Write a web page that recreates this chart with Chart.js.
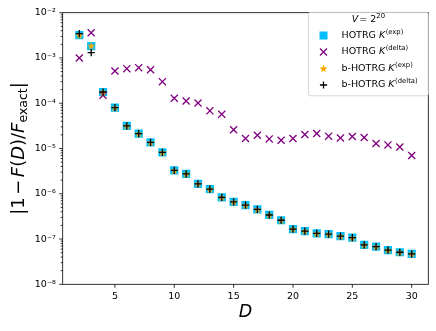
<!DOCTYPE html>
<html>
<head>
<meta charset="utf-8">
<script src="https://cdn.jsdelivr.net/npm/chart.js"></script>
<style>
  html, body { margin: 0; padding: 0; background: #fff; }
  #c { display: block; }
</style>
</head>
<body>
<canvas id="c" width="436" height="331"></canvas>
<script>
// bond dimension D
const dims = [2, 3, 4, 5, 6, 7, 8, 9, 10, 11, 12, 13, 14, 15, 16, 17, 18, 19, 20, 21, 22, 23, 24, 25, 26, 27, 28, 29, 30];
// |1 - F(D)/F_exact|
const hotrgExp = [3.21e-3, 1.83e-3, 1.77e-4, 8.0e-5, 3.15e-5, 2.14e-5, 1.36e-5, 8.2e-6, 3.27e-6, 2.75e-6,
                  1.66e-6, 1.26e-6, 8.3e-7, 6.6e-7, 5.6e-7, 4.5e-7, 3.4e-7, 2.6e-7, 1.66e-7, 1.50e-7,
                  1.33e-7, 1.29e-7, 1.16e-7, 1.07e-7, 7.4e-8, 6.8e-8, 5.7e-8, 5.1e-8, 4.7e-8];
const hotrgDelta = [1.0e-3, 3.6e-3, 1.5e-4, 5.15e-4, 5.8e-4, 6.1e-4, 5.5e-4, 3.0e-4, 1.29e-4, 1.12e-4,
                    1.01e-4, 6.8e-5, 5.7e-5, 2.6e-5, 1.66e-5, 1.96e-5, 1.63e-5, 1.52e-5, 1.66e-5, 2.04e-5,
                    2.14e-5, 1.87e-5, 1.71e-5, 1.84e-5, 1.75e-5, 1.29e-5, 1.20e-5, 1.08e-5, 7.0e-6];
const bhotrgExp = [3.18e-3, 1.85e-3, 1.77e-4, 8.0e-5, 3.15e-5, 2.14e-5, 1.36e-5, 8.2e-6, 3.27e-6, 2.75e-6,
                   1.66e-6, 1.26e-6, 8.3e-7, 6.6e-7, 5.6e-7, 4.5e-7, 3.4e-7, 2.6e-7, 1.66e-7, 1.50e-7,
                   1.33e-7, 1.29e-7, 1.16e-7, 1.07e-7, 7.4e-8, 6.8e-8, 5.7e-8, 5.1e-8, 4.7e-8];
const bhotrgDelta = [3.44e-3, 1.31e-3, 1.77e-4, 8.0e-5, 3.15e-5, 2.14e-5, 1.36e-5, 8.2e-6, 3.27e-6, 2.75e-6,
                     1.66e-6, 1.26e-6, 8.3e-7, 6.6e-7, 5.6e-7, 4.5e-7, 3.4e-7, 2.6e-7, 1.66e-7, 1.50e-7,
                     1.33e-7, 1.29e-7, 1.16e-7, 1.07e-7, 7.4e-8, 6.8e-8, 5.7e-8, 5.1e-8, 4.7e-8];

const xTicks = [5, 10, 15, 20, 25, 30];
const yMajor = [1e-8, 1e-7, 1e-6, 1e-5, 1e-4, 1e-3, 1e-2];
const yLabels = ['10⁻⁸', '10⁻⁷', '10⁻⁶', '10⁻⁵', '10⁻⁴', '10⁻³', '10⁻²'];

const FONT = "'DejaVu Sans', sans-serif";
Chart.defaults.font.family = FONT;
Chart.defaults.color = '#000';

const cSquare = '#00bfff';
const cCross = '#800080';
const cStar = '#ffa500';
const cPlus = '#000000';

function pts(vals) {
  return dims.map((d, i) => ({ x: d, y: vals[i] }));
}

function starImage(r, color) {
  const c = document.createElement('canvas');
  const s = 2 * Math.ceil(r) + 1;
  c.width = c.height = s;
  const g = c.getContext('2d');
  g.translate(s / 2, s / 2 + 0.4);
  g.beginPath();
  for (let i = 0; i < 10; i++) {
    const rad = i % 2 ? r * 0.4 : r;
    const ang = -Math.PI / 2 + i * Math.PI / 5;
    g.lineTo(rad * Math.cos(ang), rad * Math.sin(ang));
  }
  g.closePath();
  g.fillStyle = color;
  g.fill();
  return c;
}
const star = starImage(4.3, cStar);

// draw a row of text pieces with different fonts, starting at x
function drawParts(ctx, parts, x, y) {
  let cx = x;
  parts.forEach(p => {
    ctx.font = p.f;
    ctx.fillText(p.t, cx, y + (p.dy || 0));
    cx += ctx.measureText(p.t).width + (p.gap || 0);
  });
}
function partsWidth(ctx, parts) {
  let w = 0;
  parts.forEach(p => { ctx.font = p.f; w += ctx.measureText(p.t).width + (p.gap || 0); });
  return w;
}

function legendMarker(ctx, kind, x, y) {
  ctx.save();
  if (kind === 'square') {
    ctx.fillStyle = cSquare;
    ctx.fillRect(x - 4, y - 4, 8, 8);
  } else if (kind === 'cross') {
    ctx.strokeStyle = cCross; ctx.lineWidth = 1.3;
    ctx.beginPath();
    ctx.moveTo(x - 3.5, y - 3.5); ctx.lineTo(x + 3.5, y + 3.5);
    ctx.moveTo(x - 3.5, y + 3.5); ctx.lineTo(x + 3.5, y - 3.5);
    ctx.stroke();
  } else if (kind === 'star') {
    ctx.drawImage(star, x - star.width / 2, y - star.height / 2);
  } else {
    ctx.strokeStyle = cPlus; ctx.lineWidth = 1.3;
    ctx.beginPath();
    ctx.moveTo(x - 3.6, y); ctx.lineTo(x + 3.6, y);
    ctx.moveTo(x, y - 3.6); ctx.lineTo(x, y + 3.6);
    ctx.stroke();
  }
  ctx.restore();
}

const decor = {
  id: 'decor',
  afterDraw(chart) {
    const ctx = chart.ctx;
    const a = chart.chartArea;
    const xs = chart.scales.x, ys = chart.scales.y;
    ctx.save();

    // tick marks, outward
    ctx.strokeStyle = '#000';
    ctx.lineWidth = 0.8;
    ctx.beginPath();
    xs.ticks.forEach(t => {
      const px = xs.getPixelForValue(t.value);
      ctx.moveTo(px, a.bottom); ctx.lineTo(px, a.bottom + 3.5);
    });
    ys.ticks.forEach(t => {
      const py = ys.getPixelForValue(t.value);
      const len = yMajor.includes(t.value) ? 3.5 : 2;
      ctx.moveTo(a.left, py); ctx.lineTo(a.left - len, py);
    });
    ctx.stroke();
    ctx.strokeRect(a.left, a.top, a.right - a.left, a.bottom - a.top);

    // x title
    ctx.fillStyle = '#000';
    ctx.textBaseline = 'middle';
    ctx.textAlign = 'center';
    ctx.font = 'italic 17.5px ' + FONT;
    ctx.fillText('D', (a.left + a.right) / 2, 312);

    // y title, rotated
    ctx.textAlign = 'left';
    ctx.textBaseline = 'alphabetic';
    const big = '18px ' + FONT, bigI = 'italic 18px ' + FONT, sub = '12.5px ' + FONT;
    const yParts = [
      { t: '|1', f: big, gap: 2.5 }, { t: '−', f: big, gap: 2.5 },
      { t: 'F', f: bigI }, { t: '(', f: big }, { t: 'D', f: bigI }, { t: ')/', f: big },
      { t: 'F', f: bigI }, { t: 'exact', f: sub, dy: 3.8 }, { t: '|', f: big }
    ];
    ctx.save();
    ctx.translate(23.5, (a.top + a.bottom) / 2);
    ctx.rotate(-Math.PI / 2);
    const yw = partsWidth(ctx, yParts);
    drawParts(ctx, yParts, -yw / 2, 0);
    ctx.restore();

    // legend box
    const lx = 308.5, ly = 12.3, lw = a.right - lx, lh = 83.5;
    ctx.beginPath();
    ctx.roundRect(lx, ly, lw, lh, 2);
    ctx.fillStyle = 'rgba(255,255,255,0.8)';
    ctx.fill();
    ctx.strokeStyle = '#cccccc';
    ctx.lineWidth = 0.8;
    ctx.stroke();

    ctx.fillStyle = '#000';
    ctx.textBaseline = 'middle';
    const f = '9.5px ' + FONT, fi = 'italic 9.5px ' + FONT, fs = '6.8px ' + FONT;
    const title = [{ t: 'V', f: fi, gap: 1 }, { t: '= 2', f: f }, { t: '20', f: fs, dy: -3.5 }];
    const tw = partsWidth(ctx, title);
    drawParts(ctx, title, lx + lw / 2 - tw / 2, 19.5);

    const rows = [
      { m: 'square', n: 'HOTRG ', s: '(exp)' },
      { m: 'cross', n: 'HOTRG ', s: '(delta)' },
      { m: 'star', n: 'b-HOTRG ', s: '(exp)' },
      { m: 'plus', n: 'b-HOTRG ', s: '(delta)' }
    ];
    rows.forEach((r, i) => {
      const ry = 35.5 + i * 16.5;
      legendMarker(ctx, r.m, 323.5, ry);
      ctx.fillStyle = '#000';
      drawParts(ctx, [{ t: r.n, f: f }, { t: 'K', f: fi, gap: 0.5 }, { t: r.s, f: fs, dy: -3.5 }], 341.5, ry);
    });
    ctx.restore();
  }
};

new Chart(document.getElementById('c'), {
  type: 'scatter',
  data: {
    datasets: [
      { label: 'HOTRG K(exp)', data: pts(hotrgExp), pointStyle: 'rect', pointRadius: 5.8,
        pointBackgroundColor: cSquare, pointBorderColor: cSquare, pointBorderWidth: 0, order: 3 },
      { label: 'HOTRG K(delta)', data: pts(hotrgDelta), pointStyle: 'crossRot', pointRadius: 5,
        pointBorderColor: cCross, pointBackgroundColor: cCross, pointBorderWidth: 1.3, order: 2 },
      { label: 'b-HOTRG K(exp)', data: pts(bhotrgExp), pointStyle: star, pointRadius: 4.3,
        pointBorderColor: cStar, pointBackgroundColor: cStar, order: 1 },
      { label: 'b-HOTRG K(delta)', data: pts(bhotrgDelta), pointStyle: 'cross', pointRadius: 3.6,
        pointBorderColor: cPlus, pointBackgroundColor: cPlus, pointBorderWidth: 1.3, order: 0 }
    ]
  },
  options: {
    responsive: false,
    animation: false,
    events: [],
    layout: { padding: { top: 12.3, right: 7.7, left: 0, bottom: 0 } },
    plugins: { legend: { display: false }, tooltip: { enabled: false } },
    scales: {
      x: {
        type: 'linear', min: 0.6, max: 31.4,
        afterBuildTicks: s => { s.ticks = xTicks.map(v => ({ value: v })); },
        afterFit: s => { s.height = 46.7; },
        grid: { display: false, drawTicks: false },
        border: { display: false },
        ticks: { padding: 7, autoSkip: false, maxRotation: 0, font: { size: 9.5 }, color: '#000' }
      },
      y: {
        type: 'logarithmic', min: 1e-8, max: 1e-2,
        afterBuildTicks: s => {
          const t = [];
          yMajor.forEach((v, i) => {
            t.push({ value: v });
            if (i < yMajor.length - 1) for (let m = 2; m <= 9; m++) t.push({ value: m * v });
          });
          s.ticks = t;
        },
        afterFit: s => { s.width = 62.7; },
        grid: { display: false, drawTicks: false },
        border: { display: false },
        ticks: {
          padding: 7, autoSkip: false, font: { size: 9.5 }, color: '#000',
          callback: v => { const i = yMajor.indexOf(v); return i >= 0 ? yLabels[i] : ''; }
        }
      }
    }
  },
  plugins: [decor]
});
</script>
</body>
</html>
